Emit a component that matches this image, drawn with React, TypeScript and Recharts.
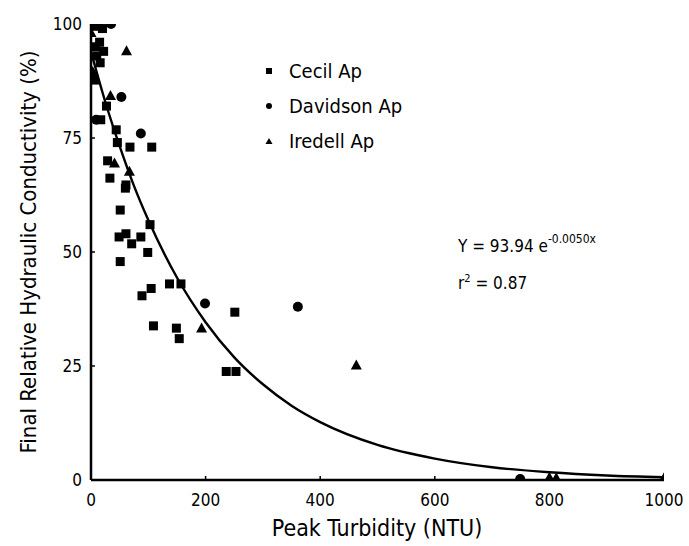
import React from 'react';
import { ComposedChart, Scatter, Line, XAxis, YAxis } from 'recharts';

// Cecil Ap (squares)
const cecilX = [5, 20, 8, 15, 22, 10, 16, 6, 27, 17, 44, 46, 68, 106, 29, 33, 61, 60, 51, 103, 61, 49, 87, 71, 99, 51, 137, 157, 105, 89, 251, 109, 149, 154, 236, 253];
const cecilY = [99.5, 99, 95, 96, 94, 93, 91.5, 87.7, 82, 79, 76.8, 74, 73, 73, 70, 66.2, 64.7, 64, 59.2, 56, 54, 53.3, 53.3, 51.8, 49.9, 47.9, 43, 43, 42, 40.4, 36.8, 33.8, 33.3, 31, 23.8, 23.8];

// Davidson Ap (circles)
const davidsonX = [2, 12, 35, 53, 87, 9, 199, 361, 749];
const davidsonY = [100, 100, 100, 84, 76, 79, 38.7, 38, 0.2];

// Iredell Ap (triangles)
const iredellX = [0, 62, 3, 34, 41, 67, 193, 463, 800, 812, 1000];
const iredellY = [98, 94, 89.5, 84.2, 69.4, 67.6, 33.2, 25.1, 0.5, 0.4, 0.4];

// fitted curve
const curveX = [0, 25, 50, 75, 100, 150, 200, 250, 300, 350, 400, 500, 600, 700, 800, 900, 1000];
const curveY = [93.9, 82.9, 73.2, 64.5, 57.0, 44.4, 34.6, 26.9, 21.0, 16.3, 12.7, 7.7, 4.7, 2.8, 1.7, 1.0, 0.6];

const xTicks = [0, 200, 400, 600, 800, 1000];
const yTicks = [0, 25, 50, 75, 100];

const legendNames = ['Cecil Ap', 'Davidson Ap', 'Iredell Ap'];

const FONT = '"Liberation Sans Narrow", "DejaVu Sans Condensed", "Liberation Sans", sans-serif';

const toPoints = (xs: number[], ys: number[]) => xs.map((x, i) => ({ x, y: ys[i] }));

const cecil = toPoints(cecilX, cecilY);
const davidson = toPoints(davidsonX, davidsonY);
const iredell = toPoints(iredellX, iredellY);
const curve = toPoints(curveX, curveY);

const Square = ({ cx, cy }: any) => <rect x={cx - 4.5} y={cy - 4.5} width={9} height={9} fill="#000" />;
const Dot = ({ cx, cy }: any) => <circle cx={cx} cy={cy} r={5} fill="#000" />;
const Tri = ({ cx, cy }: any) => (
  <polygon points={`${cx},${cy - 6} ${cx - 5.5},${cy + 4} ${cx + 5.5},${cy + 4}`} fill="#000" />
);

const XTick = ({ x, y, payload }: any) => {
  const v = payload.value;
  return (
    <g>
      {v > 0 && v < 1000 && <line x1={x} x2={x} y1={y} y2={y - 4} stroke="#000" strokeWidth={1.5} />}
      <text x={x} y={y + 26} textAnchor="middle" fontSize={17} fontFamily={FONT} fill="#000">
        {v}
      </text>
    </g>
  );
};

const YTick = ({ x, y, payload }: any) => {
  const v = payload.value;
  return (
    <g>
      {v > 0 && v < 100 && <line x1={x} x2={x + 4} y1={y} y2={y} stroke="#000" strokeWidth={1.5} />}
      <text x={x - 9} y={y + 6} textAnchor="end" fontSize={17} fontFamily={FONT} fill="#000">
        {v}
      </text>
    </g>
  );
};

export default function App() {
  return (
    <div style={{ position: 'absolute', left: 0, top: 0, width: 689, height: 546, background: '#fff' }}>
      <ComposedChart
        width={689}
        height={546}
        margin={{ top: 24, right: 25, bottom: 6, left: 0 }}
      >
        <XAxis
          type="number"
          dataKey="x"
          domain={[0, 1000]}
          ticks={xTicks}
          interval={0}
          tickLine={false}
          tickSize={0}
          tickMargin={0}
          tick={<XTick />}
          axisLine={{ stroke: '#000', strokeWidth: 2.5 }}
          height={60}
          allowDataOverflow
        />
        <YAxis
          type="number"
          dataKey="y"
          domain={[0, 100]}
          ticks={yTicks}
          interval={0}
          tickLine={false}
          tickSize={0}
          tickMargin={0}
          tick={<YTick />}
          axisLine={{ stroke: '#000', strokeWidth: 2.5 }}
          width={91}
          allowDataOverflow
        />
        <Line
          data={curve}
          dataKey="y"
          type="monotone"
          stroke="#000"
          strokeWidth={2.4}
          dot={false}
          activeDot={false}
          isAnimationActive={false}
        />
        <Scatter data={cecil} dataKey="y" shape={<Square />} isAnimationActive={false} />
        <Scatter data={davidson} dataKey="y" shape={<Dot />} isAnimationActive={false} />
        <Scatter data={iredell} dataKey="y" shape={<Tri />} isAnimationActive={false} />
      </ComposedChart>
      <svg
        width={689}
        height={546}
        style={{ position: 'absolute', left: 0, top: 0, pointerEvents: 'none' }}
        fontFamily={FONT}
      >
        <text
          x={0}
          y={0}
          transform="translate(36 252) rotate(-90)"
          textAnchor="middle"
          fontSize={22}
          fill="#000"
        >
          Final Relative Hydraulic Conductivity (%)
        </text>
        <text x={377} y={536} textAnchor="middle" fontSize={23} fill="#000">
          Peak Turbidity (NTU)
        </text>
        <rect x={266} y={68} width={6} height={6} fill="#000" />
        <circle cx={269} cy={106} r={3} fill="#000" />
        <polygon points="269,138 265.5,144 272.5,144" fill="#000" />
        {legendNames.map((name, i) => (
          <text key={name} x={289} y={[78, 113, 148][i]} fontSize={20} fill="#000">
            {name}
          </text>
        ))}
        <text x={458} y={252} fontSize={17} fill="#000">
          Y = 93.94 e
          <tspan dy={-9} fontSize={12}>-0.0050x</tspan>
        </text>
        <text x={458} y={289} fontSize={17} fill="#000">
          r<tspan dy={-7} fontSize={11}>2</tspan>
          <tspan dy={7}> = 0.87</tspan>
        </text>
      </svg>
    </div>
  );
}
